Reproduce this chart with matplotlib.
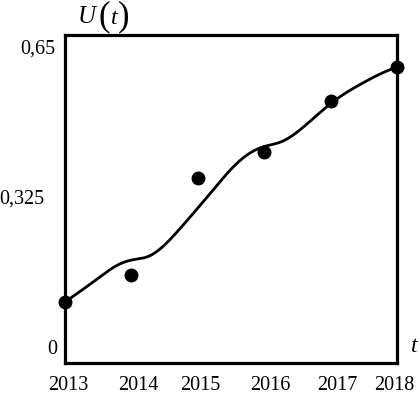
import numpy as np
import matplotlib
matplotlib.use("Agg")
import matplotlib.pyplot as plt
from matplotlib.transforms import ScaledTranslation

# ---- data ----
years = [2013, 2014, 2015, 2016, 2017, 2018]
u_obs = [0.121, 0.174, 0.367, 0.418, 0.519, 0.587]

curve_t = [2013.00, 2013.25, 2013.50, 2013.75, 2014.00, 2014.25, 2014.50,
           2014.75, 2015.00, 2015.25, 2015.50, 2015.75, 2016.00, 2016.25,
           2016.50, 2016.75, 2017.00, 2017.25, 2017.50, 2017.75, 2018.00]
curve_u = [0.121, 0.144, 0.168, 0.191, 0.204, 0.211, 0.234,
           0.269, 0.307, 0.346, 0.384, 0.413, 0.429, 0.438,
           0.458, 0.486, 0.514, 0.537, 0.556, 0.573, 0.587]

y_ticks = [0, 0.325, 0.65]
y_tick_labels = ["0", "0,325", "0,65"]
x_tick_labels = ["2013", "2014", "2015", "2016", "2017", "2018"]


def natural_spline(x, y, xs):
    x = np.asarray(x, float); y = np.asarray(y, float)
    n = len(x); h = np.diff(x)
    A = np.zeros((n, n)); b = np.zeros(n)
    A[0, 0] = A[-1, -1] = 1
    for i in range(1, n - 1):
        A[i, i - 1] = h[i - 1]
        A[i, i] = 2 * (h[i - 1] + h[i])
        A[i, i + 1] = h[i]
        b[i] = 6 * ((y[i + 1] - y[i]) / h[i] - (y[i] - y[i - 1]) / h[i - 1])
    M = np.linalg.solve(A, b)
    idx = np.clip(np.searchsorted(x, xs) - 1, 0, n - 2)
    x0 = x[idx]; x1 = x[idx + 1]; hh = x1 - x0
    a = (x1 - xs) / hh; bb = (xs - x0) / hh
    return (a * y[idx] + bb * y[idx + 1]
            + ((a ** 3 - a) * M[idx] + (bb ** 3 - bb) * M[idx + 1]) * hh ** 2 / 6)


plt.rcParams['font.family'] = ['Liberation Serif', 'DejaVu Serif']

fig = plt.figure(figsize=(4.2, 3.94), dpi=100)
ax = fig.add_axes([65 / 420, 31 / 394, 332 / 420, 328 / 394])

xs = np.linspace(curve_t[0], curve_t[-1], 400)
ax.plot(xs, natural_spline(curve_t, curve_u, xs), color='black', lw=2.0,
        solid_capstyle='round', clip_on=False, zorder=3)
ax.plot(years, u_obs, 'o', color='black', ms=9, clip_on=False, zorder=4)

ax.set_xlim(2013, 2018)
ax.set_ylim(0, 0.65)
for s in ax.spines.values():
    s.set_linewidth(2.3)

ax.set_xticks(years)
ax.set_xticklabels(x_tick_labels, fontsize=14.5)
ax.set_yticks(y_ticks)
ax.set_yticklabels(y_tick_labels, fontsize=14.5)
ax.tick_params(axis='x', length=0, pad=9)
ax.tick_params(axis='y', length=0, pad=7)

# individual label offsets (pixels) to mimic the reference placement
y_offsets = [(2, 16), (-11, 2), (0, -12)]
for lbl, (dx, dy) in zip(ax.get_yticklabels(), y_offsets):
    lbl.set_transform(lbl.get_transform() +
                      ScaledTranslation(dx / 100, dy / 100, fig.dpi_scale_trans))
x_offsets = [3, 7, 2, 6, 7, -3]
for lbl, dx in zip(ax.get_xticklabels(), x_offsets):
    lbl.set_transform(lbl.get_transform() +
                      ScaledTranslation(dx / 100, 0, fig.dpi_scale_trans))

# axis titles
ax.text(87 / 420, 1 - 17 / 394, "U", transform=fig.transFigure, fontsize=18,
        style='italic', ha='center', va='center')
ax.text(104 / 420, 1 - 17 / 394, "(", transform=fig.transFigure, fontsize=25,
        ha='center', va='center')
ax.text(114 / 420, 1 - 18 / 394, "t", transform=fig.transFigure, fontsize=17,
        style='italic', ha='center', va='center')
ax.text(124 / 420, 1 - 17 / 394, ")", transform=fig.transFigure, fontsize=25,
        ha='center', va='center')
ax.text(414 / 420, 1 - 347 / 394, "t", transform=fig.transFigure, fontsize=17,
        style='italic', ha='center', va='center')

fig.savefig("out.png", dpi=100)
